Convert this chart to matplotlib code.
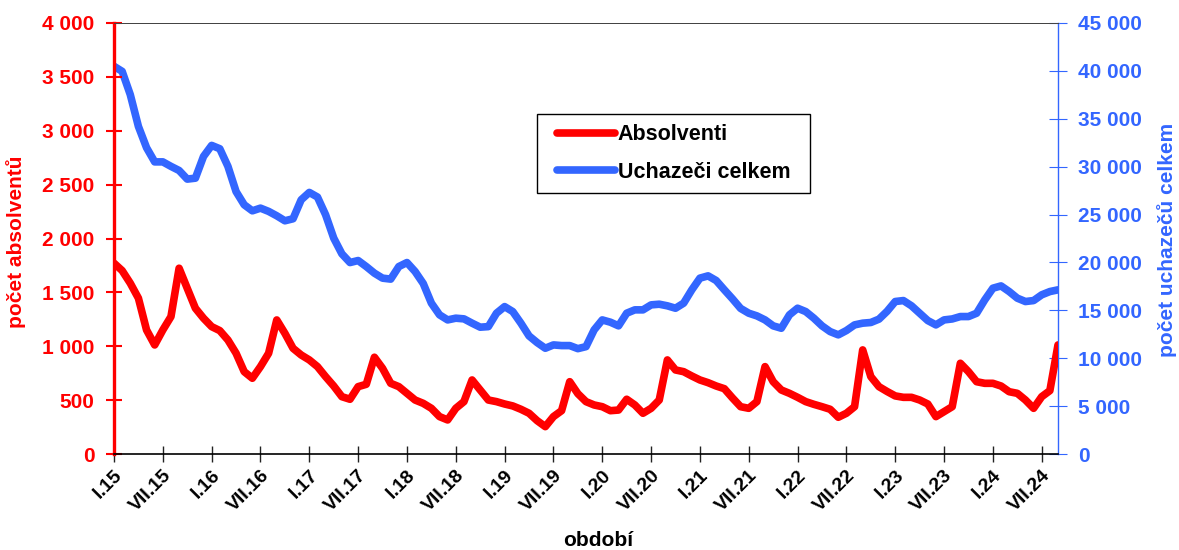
import matplotlib
matplotlib.use("Agg")
import matplotlib.pyplot as plt
from matplotlib.patches import Rectangle
import numpy as np

plt.rcParams['font.family'] = ['Liberation Sans', 'DejaVu Sans']
plt.rcParams['font.weight'] = 'bold'

roman = ["I", "VII"]
years = list(range(15, 25))
tick_labels = [f"{r}.{y}" for y in years for r in roman]

absolventi = [1771, 1702, 1585, 1446, 1151, 1012, 1151, 1275, 1724, 1538, 1353, 1260,
              1182, 1145, 1058, 935, 764, 703, 811, 935, 1244, 1120, 981, 919,
              873, 811, 718, 631, 532, 508, 625, 647, 898, 795, 656, 625,
              563, 501, 470, 424, 347, 316, 424, 486, 687, 594, 501, 486,
              464, 446, 415, 378, 309, 254, 347, 402, 671, 560, 486, 455,
              439, 402, 408, 508, 455, 378, 424, 501, 873, 780, 764, 724,
              687, 662, 631, 606, 520, 439, 424, 486, 811, 671, 594, 563,
              526, 486, 461, 439, 415, 341, 378, 439, 966, 718, 625, 580,
              539, 526, 526, 501, 464, 347, 393, 439, 842, 764, 671, 656,
              656, 631, 578, 563, 501, 424, 532, 588, 1012]

uchazeci = [40480, 39950, 37520, 34200, 31980, 30500, 30500, 30030, 29600, 28700, 28800, 31070,
            32220, 31870, 30030, 27400, 26020, 25390, 25670, 25330, 24870, 24350, 24560, 26540,
            27310, 26830, 24980, 22540, 20900, 19990, 20200, 19570, 18880, 18360, 18260, 19570,
            19990, 19050, 17800, 15750, 14530, 14000, 14180, 14110, 13660, 13240, 13300, 14700,
            15390, 14870, 13660, 12330, 11630, 11040, 11390, 11320, 11320, 11000, 11210, 12960,
            14000, 13760, 13380, 14700, 15050, 15050, 15570, 15640, 15470, 15220, 15750, 17140,
            18360, 18600, 18110, 17140, 16200, 15200, 14700, 14420, 14000, 13380, 13130, 14530,
            15220, 14870, 14180, 13380, 12780, 12440, 12890, 13480, 13660, 13730, 14080, 14900,
            15920, 16020, 15470, 14700, 13930, 13480, 14000, 14100, 14350, 14350, 14700, 16090,
            17310, 17550, 16960, 16270, 15920, 16020, 16620, 16960, 17140]

RED = "#FF0000"
BLUE = "#3366FF"

def fmt(v):
    return f"{int(v):,}".replace(",", " ")

W, H = 1179, 550
fig = plt.figure(figsize=(W/100, H/100), dpi=100)
ax = fig.add_axes([114/W, 1-454/H, (1058-114)/W, (454-23)/H])
ax2 = ax.twinx()

x = np.arange(len(absolventi))
l2, = ax2.plot(x, uchazeci, color=BLUE, lw=5.5, solid_joinstyle='round', solid_capstyle='round',
               label="Uchazeči celkem")
l1, = ax.plot(x, absolventi, color=RED, lw=5.5, solid_joinstyle='round', solid_capstyle='round',
              label="Absolventi", zorder=5)
ax.set_zorder(ax2.get_zorder() + 1)
ax.patch.set_visible(False)

ax.set_xlim(0, len(absolventi) - 1)
ax.set_ylim(0, 4000)
ax2.set_ylim(0, 45000)

ticks_left = np.arange(0, 4001, 500)
ax.set_yticks(ticks_left)
ax.set_yticklabels([fmt(v) for v in ticks_left], color=RED, fontsize=15, fontweight='bold')
ticks_right = np.arange(0, 45001, 5000)
ax2.set_yticks(ticks_right)
ax2.set_yticklabels([fmt(v) for v in ticks_right], color=BLUE, fontsize=15, fontweight='bold')

xt = np.arange(0, len(absolventi), 6)
ax.set_xticks(xt)
ax.set_xticklabels(tick_labels[:len(xt)], rotation=45, ha='right', va='top',
                   rotation_mode='anchor', fontsize=14, fontweight='bold')

ax.tick_params(axis='y', colors=RED, direction='inout', length=12, width=1.5, pad=8)
ax.tick_params(axis='x', colors='#222222', direction='inout', length=12, width=1.0, pad=3)
ax2.tick_params(axis='y', colors=BLUE, direction='inout', length=13, width=0.8, pad=8)
for lab in ax.get_xticklabels():
    lab.set_color('black')

for a in (ax, ax2):
    a.spines['top'].set_linestyle((0, (1.5, 1)))
    a.spines['top'].set_linewidth(0.7)
    a.spines['top'].set_color('#444444')
ax.spines['left'].set_color(RED)
ax.spines['left'].set_linewidth(2.4)
ax.spines['right'].set_visible(False)
ax2.spines['left'].set_visible(False)
ax2.spines['right'].set_color(BLUE)
ax2.spines['right'].set_linewidth(1.0)
ax.spines['bottom'].set_color('black')
ax.spines['bottom'].set_linewidth(1.2)
ax2.spines['bottom'].set_visible(False)

fig.text(16/W, 1-242/H, "počet absolventů", color=RED, fontsize=15, fontweight='bold',
         rotation=90, ha='center', va='center')
fig.text(1167/W, 1-240/H, "počet uchazečů celkem", color=BLUE, fontsize=15, fontweight='bold',
         rotation=90, ha='center', va='center')
fig.text(598/W, 1-541/H, "období", color='black', fontsize=15, fontweight='bold',
         ha='center', va='center')

# legend frame
bx0, bx1, by0, by1 = 537, 810, 114, 193
ax.add_patch(Rectangle(((bx0-114)/944, (454-by1)/431), (bx1-bx0)/944, (by1-by0)/431,
                       transform=ax.transAxes, facecolor='white', edgecolor='black',
                       linewidth=1.0, zorder=9))
leg = ax.legend(handles=[l1, l2], loc='center',
                bbox_to_anchor=(((bx0+bx1)/2-114)/944, (454-(by0+by1)/2)/431),
                frameon=False, prop={'size': 15.5, 'weight': 'bold'},
                handlelength=2.7, handletextpad=0.15, labelspacing=0.75,
                borderpad=0, borderaxespad=0)
leg.set_zorder(10)

fig.savefig("out.png", dpi=100)
